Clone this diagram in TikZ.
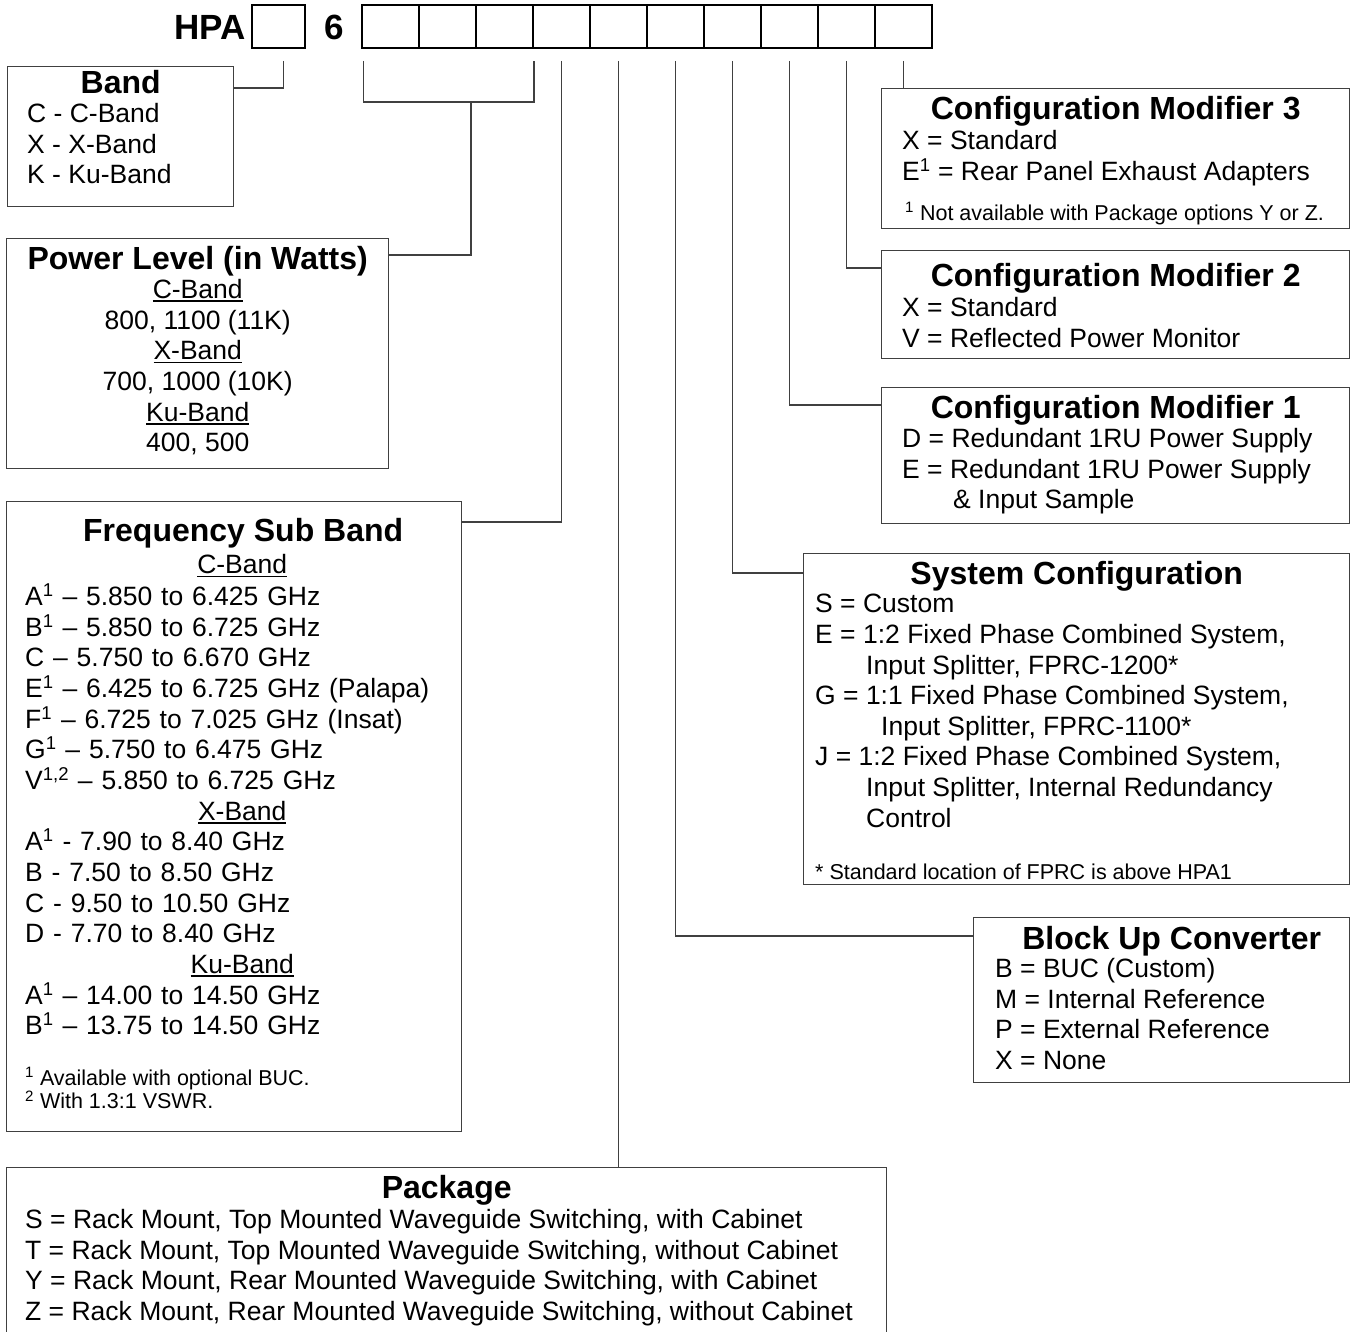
\documentclass[tikz,border=0pt]{standalone}
\usepackage{fontspec}
\setmainfont{Liberation Sans}
\usetikzlibrary{positioning}
\newcommand{\codefont}{\fontsize{35}{40}\bfseries\selectfont}
\newcommand{\headfont}{\fontsize{32}{36}\bfseries\selectfont}
\newcommand{\bodyfont}{\fontsize{26.5}{30.65}\selectfont}
\newcommand{\notefont}{\fontsize{21.5}{22}\selectfont}
\newcommand{\bandhead}[1]{\setbox0=\hbox{#1}\rlap{\rule[-3.5pt]{\wd0}{1.6pt}}\box0}
\tikzstyle{code} = [inner sep=0pt, font=\codefont]
\tikzstyle{cell} = [rectangle, draw=black, line width=1.6pt, minimum width=57pt, minimum height=43pt, inner sep=0pt]
\tikzstyle{panel} = [rectangle, draw=black!75, line width=1.4pt, anchor=north west, inner sep=0pt]
\tikzstyle{head} = [anchor=base, inner sep=0pt, font=\headfont]
\tikzstyle{body} = [anchor=north west, inner sep=0pt, align=left, font=\bodyfont, execute at begin node=\strut]
\tikzstyle{note} = [anchor=north west, inner sep=0pt, align=left, font=\notefont, execute at begin node=\strut]
\tikzstyle{wire} = [draw=black!75, line width=1.4pt]
\begin{document}
\begin{tikzpicture}[x=1pt, y=-1pt, node distance=57pt]
	\useasboundingbox (0,0) rectangle (1351,1331);
	\node (hpa) [code, anchor=east] at (246,27) {HPA};
	\node (b0) [cell, minimum width=53pt] at (278.5,26.5) {};
	\node (six) [code] at (334,27) {6};
	\node (d1) [cell] at (390.5,26.5) {};
	\node (d2) [cell, right of=d1] {};
	\node (d3) [cell, right of=d2] {};
	\node (d4) [cell, right of=d3] {};
	\node (d5) [cell, right of=d4] {};
	\node (d6) [cell, right of=d5] {};
	\node (d7) [cell, right of=d6] {};
	\node (d8) [cell, right of=d7] {};
	\node (d9) [cell, right of=d8] {};
	\node (d10) [cell, right of=d9] {};

	\node (band) [panel, minimum width=226pt, minimum height=140pt] at (7,66) {};
	\node (bandT) [head] at ([yshift=-27.5pt]band.north) {Band};
	\node (bandL) [body] at ([xshift=20pt, yshift=-37pt]band.north west) {C - C-Band\\X - X-Band\\K - Ku-Band};

	\node (power) [panel, minimum width=382pt, minimum height=230pt] at (6,238) {};
	\node (powerT) [head] at ([yshift=-31.5pt]power.north) {Power Level (in Watts)};
	\node (powerL) [body, anchor=north, align=center] at ([yshift=-41pt]power.north) {\bandhead{C-Band}\\800, 1100 (11K)\\\bandhead{X-Band}\\700, 1000 (10K)\\\bandhead{Ku-Band}\\400, 500};

	\node (freq) [panel, minimum width=455pt, minimum height=630pt] at (6,501) {};
	\node (freqT) [head] at ([xshift=9pt, yshift=-40.5pt]freq.north) {Frequency Sub Band};
	\node (freqL) [body, text width=434pt] at ([xshift=19pt, yshift=-51pt]freq.north west) {\makebox[\linewidth]{\bandhead{C-Band}}\\
		A\textsuperscript{1} -- 5.850 to 6.425 GHz\\
		B\textsuperscript{1} -- 5.850 to 6.725 GHz\\
		C -- 5.750 to 6.670 GHz\\
		E\textsuperscript{1} -- 6.425 to 6.725 GHz (Palapa)\\
		F\textsuperscript{1} -- 6.725 to 7.025 GHz (Insat)\\
		G\textsuperscript{1} -- 5.750 to 6.475 GHz\\
		V\textsuperscript{1,2} -- 5.850 to 6.725 GHz\\
		\makebox[\linewidth]{\bandhead{X-Band}}\\
		A\textsuperscript{1} - 7.90 to 8.40 GHz\\
		B - 7.50 to 8.50 GHz\\
		C - 9.50 to 10.50 GHz\\
		D - 7.70 to 8.40 GHz\\
		\makebox[\linewidth]{\bandhead{Ku-Band}}\\
		A\textsuperscript{1} -- 14.00 to 14.50 GHz\\
		B\textsuperscript{1} -- 13.75 to 14.50 GHz};
	\node (freqN) [note] at ([xshift=19pt, yshift=-566pt]freq.north west) {\textsuperscript{1} Available with optional BUC.\\\textsuperscript{2} With 1.3:1 VSWR.};

	\node (pkg) [panel, minimum width=880pt, minimum height=180pt] at (6,1167) {};
	\node (pkgT) [head] at ([yshift=-31.5pt]pkg.north) {Package};
	\node (pkgL) [body] at ([xshift=19pt, yshift=-42pt]pkg.north west) {S = Rack Mount, Top Mounted Waveguide Switching, with Cabinet\\
		T = Rack Mount, Top Mounted Waveguide Switching, without Cabinet\\
		Y = Rack Mount, Rear Mounted Waveguide Switching, with Cabinet\\
		Z = Rack Mount, Rear Mounted Waveguide Switching, without Cabinet};

	\node (buc) [panel, minimum width=376pt, minimum height=165pt] at (973,917) {};
	\node (bucT) [head] at ([xshift=10pt, yshift=-32.5pt]buc.north) {Block Up Converter};
	\node (bucL) [body] at ([xshift=22pt, yshift=-41pt]buc.north west) {B = BUC (Custom)\\M = Internal Reference\\P = External Reference\\X = None};

	\node (sys) [panel, minimum width=546pt, minimum height=331pt] at (803,553) {};
	\node (sysT) [head] at ([yshift=-31.5pt]sys.north) {System Configuration};
	\node (sysL) [body] at ([xshift=12pt, yshift=-41pt]sys.north west) {S = Custom\\
		E = 1:2 Fixed Phase Combined System,\\
		\hspace*{51pt}Input Splitter, FPRC-1200*\\
		G = 1:1 Fixed Phase Combined System,\\
		\hspace*{66pt}Input Splitter, FPRC-1100*\\
		J = 1:2 Fixed Phase Combined System,\\
		\hspace*{51pt}Input Splitter, Internal Redundancy\\
		\hspace*{51pt}Control};
	\node (sysN) [note] at ([xshift=12pt, yshift=-311pt]sys.north west) {* Standard location of FPRC is above HPA1};

	\node (cmA) [panel, minimum width=468pt, minimum height=136pt] at (881,387) {};
	\node (cmAT) [head] at ([yshift=-31.5pt]cmA.north) {Configuration Modifier 1};
	\node (cmAL) [body] at ([xshift=21pt, yshift=-41pt]cmA.north west) {D = Redundant 1RU Power Supply\\E = Redundant 1RU Power Supply\\\hspace*{51pt}\& Input Sample};

	\node (cmB) [panel, minimum width=468pt, minimum height=108pt] at (881,250) {};
	\node (cmBT) [head] at ([yshift=-36.5pt]cmB.north) {Configuration Modifier 2};
	\node (cmBL) [body] at ([xshift=21pt, yshift=-47pt]cmB.north west) {X = Standard\\V = Reflected Power Monitor};

	\node (cmC) [panel, minimum width=468pt, minimum height=140pt] at (881,88) {};
	\node (cmCT) [head] at ([yshift=-31.5pt]cmC.north) {Configuration Modifier 3};
	\node (cmCL) [body] at ([xshift=21pt, yshift=-42pt]cmC.north west) {X = Standard\\E\textsuperscript{1} = Rear Panel Exhaust Adapters};
	\node (cmCN) [note] at ([xshift=24pt, yshift=-114pt]cmC.north west) {\textsuperscript{1} Not available with Package options Y or Z.};

	\coordinate (pwrjoin) at (471,102);
	\draw [wire] ([xshift=5pt, yshift=-12pt]b0.south) |- ([yshift=-22pt]band.north east);
	\draw [wire] ([xshift=2pt, yshift=-12pt]d1.south west) |- (pwrjoin) -| ([yshift=-12pt]d3.south east);
	\draw [wire] (pwrjoin) |- ([yshift=-17pt]power.north east);
	\draw [wire] ([yshift=-12pt]d4.south) |- ([yshift=-21pt]freq.north east);
	\draw [wire] ([yshift=-12pt]d5.south) -- (d5.south |- pkg.north);
	\draw [wire] ([yshift=-12pt]d6.south) |- ([yshift=-19pt]buc.north west);
	\draw [wire] ([yshift=-12pt]d7.south) |- ([yshift=-20pt]sys.north west);
	\draw [wire] ([yshift=-12pt]d8.south) |- ([yshift=-18pt]cmA.north west);
	\draw [wire] ([yshift=-12pt]d9.south) |- ([yshift=-18pt]cmB.north west);
	\draw [wire] ([yshift=-12pt]d10.south) -- (d10.south |- cmC.north);
\end{tikzpicture}
\end{document}
